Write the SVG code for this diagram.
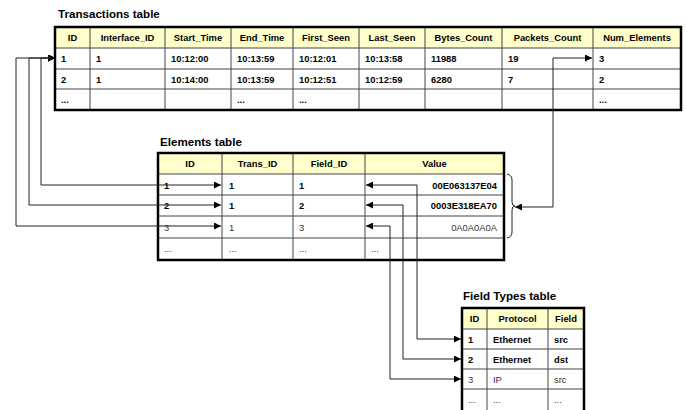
<svg xmlns="http://www.w3.org/2000/svg" width="687" height="410" viewBox="0 0 687 410">
  <style>
    text { font-family: "Liberation Sans", Arial, sans-serif; font-size: 9.4px; fill: #000; }
    .title { font-size: 11.6px; font-weight: bold; }
    .hdr { font-weight: bold; text-anchor: middle; }
    .b { font-weight: bold; }
    .g { fill: #333; }
    .r { text-anchor: end; }
    .hfill { fill: #FFFFCC; }
    .outer { fill: none; stroke: #000; stroke-width: 2.5; }
    .grid { stroke: #444; stroke-width: 1; fill: none; }
    .conn { stroke: #222; stroke-width: 1; fill: none; }
  </style>
  <defs>
    <marker id="arrow" viewBox="0 0 10 10" refX="10" refY="5" markerWidth="7" markerHeight="7" markerUnits="userSpaceOnUse" orient="auto-start-reverse">
      <path d="M0,0 L10,5 L0,10 Z" fill="#000"/>
    </marker>
  </defs>

  <!-- Transactions table -->
  <g id="transactions">
    <text class="title" x="58" y="18">Transactions table</text>
    <rect class="hfill" x="55" y="27" width="626" height="21"/>
    <rect fill="#fff" x="55" y="48" width="626" height="62"/>
    <path class="grid" d="M55,48 H681 M55,69 H681 M55,89 H681
      M90,27 V110 M165,27 V110 M231,27 V110 M293,27 V110 M359,27 V110 M425,27 V110 M502,27 V110 M593,27 V110"/>
    <rect class="outer" x="55" y="27" width="626" height="83"/>
    <text class="hdr" x="72.5" y="41">ID</text>
    <text class="hdr" x="127.5" y="41">Interface_ID</text>
    <text class="hdr" x="198" y="41">Start_Time</text>
    <text class="hdr" x="262" y="41">End_Time</text>
    <text class="hdr" x="326" y="41">First_Seen</text>
    <text class="hdr" x="392" y="41">Last_Seen</text>
    <text class="hdr" x="463.5" y="41">Bytes_Count</text>
    <text class="hdr" x="547.5" y="41">Packets_Count</text>
    <text class="hdr" x="637" y="41">Num_Elements</text>

    <text class="b" x="61" y="62">1</text>
    <text class="b" x="96" y="62">1</text>
    <text class="b" x="171" y="62">10:12:00</text>
    <text class="b" x="237" y="62">10:13:59</text>
    <text class="b" x="299" y="62">10:12:01</text>
    <text class="b" x="365" y="62">10:13:58</text>
    <text class="b" x="431" y="62">11988</text>
    <text class="b" x="508" y="62">19</text>
    <text class="b" x="599" y="62">3</text>

    <text class="b" x="61" y="82.5">2</text>
    <text class="b" x="96" y="82.5">1</text>
    <text class="b" x="171" y="82.5">10:14:00</text>
    <text class="b" x="237" y="82.5">10:13:59</text>
    <text class="b" x="299" y="82.5">10:12:51</text>
    <text class="b" x="365" y="82.5">10:12:59</text>
    <text class="b" x="431" y="82.5">6280</text>
    <text class="b" x="508" y="82.5">7</text>
    <text class="b" x="599" y="82.5">2</text>

    <text class="b" x="61" y="103">...</text>
    <text class="b" x="237" y="103">...</text>
    <text class="b" x="299" y="103">...</text>
    <text class="b" x="599" y="103">...</text>
  </g>

  <!-- Elements table -->
  <g id="elements">
    <text class="title" x="160" y="146">Elements table</text>
    <rect class="hfill" x="158" y="153" width="346" height="21"/>
    <rect fill="#fff" x="158" y="174" width="346" height="86"/>
    <path class="grid" d="M158,174 H504 M158,195 H504 M158,216 H504 M158,238 H504
      M222,153 V260 M293,153 V260 M365,153 V260"/>
    <rect class="outer" x="158" y="153" width="346" height="107"/>
    <text class="hdr" x="190" y="167">ID</text>
    <text class="hdr" x="257.5" y="167">Trans_ID</text>
    <text class="hdr" x="329" y="167">Field_ID</text>
    <text class="hdr" x="434.5" y="167">Value</text>

    <text class="b" x="164" y="188.5">1</text>
    <text class="b" x="229" y="188.5">1</text>
    <text class="b" x="299" y="188.5">1</text>
    <text class="b r" x="497" y="188.5">00E063137E04</text>

    <text class="b" x="164" y="209">2</text>
    <text class="b" x="229" y="209">1</text>
    <text class="b" x="299" y="209">2</text>
    <text class="b r" x="497" y="209">0003E318EA70</text>

    <text class="g" x="164" y="230.5">3</text>
    <text class="g" x="229" y="230.5">1</text>
    <text class="g" x="299" y="230.5">3</text>
    <text class="g r" x="497" y="230.5">0A0A0A0A</text>

    <text class="g" x="164" y="252">...</text>
    <text class="g" x="229" y="252">...</text>
    <text class="g" x="299" y="252">...</text>
    <text class="g" x="371" y="252">...</text>
  </g>

  <!-- brace grouping the element rows -->
  <g id="elements-brace">
    <path class="conn" d="M507,174 Q512,175 512,180 V202 Q512,206 515,206 Q512,206 512,210 V232 Q512,237 507,238"/>
  </g>

  <!-- Field Types table -->
  <g id="field-types">
    <text class="title" x="463" y="300">Field Types table</text>
    <rect class="hfill" x="462" y="308" width="122" height="21"/>
    <rect fill="#fff" x="462" y="329" width="122" height="84"/>
    <path class="grid" d="M462,329 H584 M462,349 H584 M462,369 H584 M462,389 H584
      M487,308 V413 M548,308 V413"/>
    <rect class="outer" x="462" y="308" width="122" height="105"/>
    <text class="hdr" x="474.5" y="322">ID</text>
    <text class="hdr" x="517.5" y="322">Protocol</text>
    <text class="hdr" x="566" y="322">Field</text>

    <text class="b" x="468" y="342.5">1</text>
    <text class="b" x="493" y="342.5">Ethernet</text>
    <text class="b" x="554" y="342.5">src</text>

    <text class="b" x="468" y="362.5">2</text>
    <text class="b" x="493" y="362.5">Ethernet</text>
    <text class="b" x="554" y="362.5">dst</text>

    <text class="g" x="468" y="382.5">3</text>
    <text class="g" x="493" y="382.5">IP</text>
    <text class="g" x="554" y="382.5">src</text>

    <text class="g" x="468" y="402.5">...</text>
    <text class="g" x="493" y="402.5">...</text>
    <text class="g" x="554" y="402.5">...</text>
  </g>

  <!-- Connectors -->
  <g id="connectors">
    <path class="conn" marker-start="url(#arrow)" marker-end="url(#arrow)" d="M55,58 H41 V185 H221"/>
    <path class="conn" marker-start="url(#arrow)" marker-end="url(#arrow)" d="M55,58 H29 V205 H221"/>
    <path class="conn" marker-start="url(#arrow)" marker-end="url(#arrow)" d="M55,58 H16 V226 H221"/>

    <path class="conn" marker-start="url(#arrow)" marker-end="url(#arrow)" d="M366,185 H417 V339 H461"/>
    <path class="conn" marker-start="url(#arrow)" marker-end="url(#arrow)" d="M366,205 H403 V359 H461"/>
    <path class="conn" marker-start="url(#arrow)" marker-end="url(#arrow)" d="M366,226 H390 V379 H461"/>

    <path class="conn" marker-start="url(#arrow)" marker-end="url(#arrow)" d="M515,207 H553 V58 H592"/>
  </g>
</svg>
